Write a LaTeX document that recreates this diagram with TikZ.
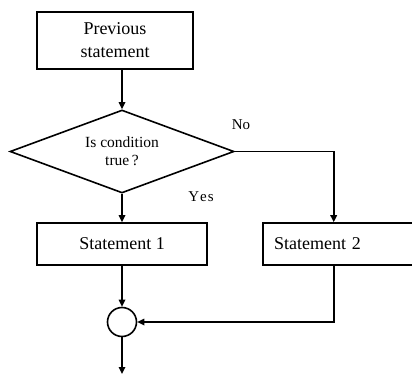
\documentclass[tikz,border=0pt]{standalone}
\usepackage{fontspec}
\setmainfont{Liberation Serif}
\usetikzlibrary{shapes.geometric,arrows.meta}
\begin{document}
\begin{tikzpicture}[x=1pt,y=-1pt,
  line width=1.6pt,
  box/.style={draw,rectangle,inner sep=0pt,font=\fontsize{18}{23}\selectfont,align=center},
  arr/.style={-{Triangle[length=7pt,width=6.5pt]}},
  lbl/.style={font=\fontsize{15}{18}\selectfont}]
\useasboundingbox[fill=white] (0,0) rectangle (412,374);
\node[box,minimum width=156pt,minimum height=57pt] (p) at (115,40.5) {Previous\\statement};
\node[draw,diamond,inner sep=0pt,minimum width=224pt,minimum height=83pt,aspect=2.7,
      font=\fontsize{15.5}{18}\selectfont,align=center] (d) at (122,151.5) {Is condition\\true\,?};
\node[box,minimum width=170pt,minimum height=42pt] (s1) at (122,244) {Statement 1};
\node[box,minimum width=167pt,minimum height=42pt,text width=145pt,align=left,inner xsep=11pt] (s2) at (346.5,244) {Statement 2};
\node[draw,circle,minimum size=29pt,inner sep=0pt] (c) at (122,322) {};
\coordinate (out) at (122,374);
\node[lbl] (no) at (241,125) {No};
\node[lbl] (yes) at (201,197) {Y\kern1pt e\kern1pt s};
\draw[arr] (p.south -| d.north) -- (d.north);
\draw[arr] (d.south) -- (s1.north);
\draw[arr] (d.east) -| ([xshift=71.5pt]s2.north west);
\draw[arr] (s1.south) -- (c.north);
\draw[arr] ([xshift=71.5pt]s2.south west) |- (c.east);
\draw[arr] (c.south) -- (out);
\end{tikzpicture}
\end{document}
